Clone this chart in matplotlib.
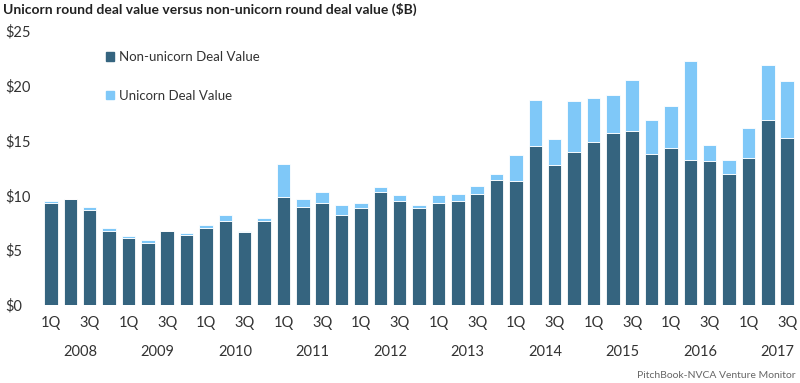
import matplotlib.pyplot as plt
from matplotlib.patches import Patch

plt.rcParams['font.family'] = ['Lato', 'DejaVu Sans']

years = ['2008', '2009', '2010', '2011', '2012', '2013', '2014', '2015', '2016', '2017']
quarter_labels = ['1Q', '', '3Q', '']

# values in $B (2008 1Q .. 2017 3Q)
non_unicorn = [9.33, 9.67, 8.70, 6.72, 6.08, 5.69, 6.75, 6.42, 7.06, 7.66,
               6.63, 7.69, 9.88, 8.91, 9.33, 8.18, 8.82, 10.31, 9.46, 8.82,
               9.33, 9.46, 10.10, 11.43, 11.34, 14.51, 12.80, 13.96, 14.90, 15.66,
               15.88, 13.78, 14.29, 13.23, 13.14, 11.95, 13.44, 16.91, 15.27]
totals = [9.49, 9.67, 8.91, 7.06, 6.30, 5.90, 6.78, 6.54, 7.27, 8.21,
          6.75, 7.91, 12.83, 9.67, 10.31, 9.15, 9.28, 10.77, 10.04, 9.15,
          10.01, 10.13, 10.86, 11.98, 13.66, 18.70, 15.15, 18.61, 18.92, 19.13,
          20.50, 16.85, 18.19, 22.29, 14.60, 13.26, 16.18, 21.87, 20.41]
unicorn = [t - n for t, n in zip(totals, non_unicorn)]

dark = '#35647f'
light = '#7fc8f8'
text_color = '#333333'

x = list(range(len(non_unicorn)))
tick_labels = [quarter_labels[i % 4] for i in x]

fig = plt.figure(figsize=(8, 3.83), dpi=100)
ax = fig.add_axes([0.0516, 0.2037, 0.9445, 0.7153])

ax.bar(x, non_unicorn, width=0.7, color=dark, edgecolor='white', linewidth=0.6)
ax.bar(x, unicorn, width=0.7, bottom=non_unicorn, color=light, edgecolor='white', linewidth=0.6)

ax.set_xlim(-0.5, len(x) - 0.5)
ax.set_ylim(0, 25)
ax.set_yticks([0, 5, 10, 15, 20, 25])
ax.set_yticklabels(['$0', '$5', '$10', '$15', '$20', '$25'])
ax.set_xticks(x)
ax.set_xticklabels(tick_labels)
ax.tick_params(length=0, labelsize=10.5, colors=text_color)
ax.tick_params(axis='x', pad=8)
ax.tick_params(axis='y', pad=26)
for lbl in ax.get_yticklabels():
    lbl.set_horizontalalignment('left')
for s in ax.spines.values():
    s.set_visible(False)

# year labels centred under each group of four quarters
for i, yr in enumerate(years):
    ax.text(i * 4 + 1.5, -0.17, yr, transform=ax.get_xaxis_transform(),
            ha='center', va='center', fontsize=10.5, color=text_color)

handles = [Patch(color=dark), Patch(color=light)]
ax.legend(handles, ['Non-unicorn Deal Value', 'Unicorn Deal Value'],
          loc='upper left', bbox_to_anchor=(0.07, 0.97), frameon=False,
          handlelength=0.6, handleheight=0.6, handletextpad=0.4,
          labelspacing=2.0, fontsize=9.5, labelcolor=text_color)

fig.text(0.004, 0.975, 'Unicorn round deal value versus non-unicorn round deal value ($B)',
         ha='left', va='center', fontsize=10, fontweight='bold', color='#222222')
fig.text(0.994, 0.02, 'PitchBook-NVCA Venture Monitor', ha='right', va='center',
         fontsize=7.5, color='#666666')

fig.savefig('out.png', dpi=100)
